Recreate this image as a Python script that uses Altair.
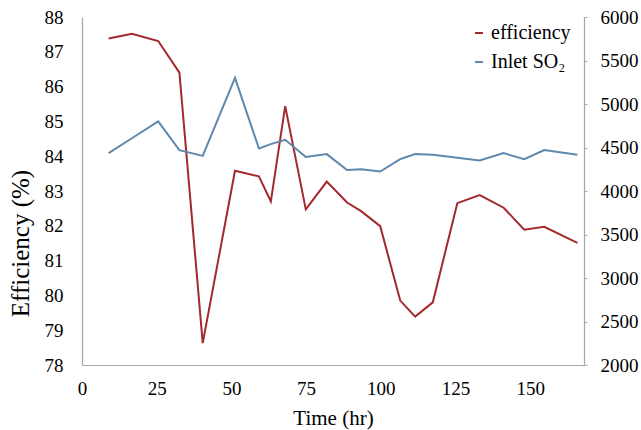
import altair as alt
import pandas as pd

# Data
time_hr = [8.9, 16.7, 25.5, 32.6, 40.4, 51.2, 59.2, 63.2, 68.0, 74.9, 81.9, 88.7,
           93.4, 99.8, 106.5, 111.5, 117.4, 125.6, 133.1, 141.1, 148.0, 154.7, 165.8]
efficiency = [87.38, 87.52, 87.31, 86.40, 78.63, 83.58, 83.42, 82.70, 85.44, 82.47, 83.27, 82.67,
              82.42, 81.99, 79.85, 79.39, 79.80, 82.65, 82.88, 82.52, 81.89, 81.97, 81.51]
inlet_so2 = [4435, 4606, 4801, 4470, 4404, 5301, 4489, 4539, 4589, 4392, 4424, 4242,
             4250, 4224, 4366, 4424, 4416, 4381, 4351, 4435, 4366, 4470, 4416]

series_names = ["efficiency", "Inlet SO₂"]
series_colors = ["#A2292E", "#5E88AC"]
x_ticks = [0, 25, 50, 75, 100, 125, 150]
left_ticks = list(range(78, 89))
right_ticks = [2000, 2500, 3000, 3500, 4000, 4500, 5000, 5500, 6000]

n = len(time_hr)
df = pd.DataFrame({
    "time": time_hr + time_hr,
    "value": efficiency + inlet_so2,
    "series": [series_names[0]] * n + [series_names[1]] * n,
})

FONT = "Liberation Serif"
AXIS_GRAY = "#A6A6A6"

color = alt.Color(
    "series:N",
    scale=alt.Scale(domain=series_names, range=series_colors),
    legend=alt.Legend(
        title=None, orient="none", legendX=387, legendY=6,
        symbolType="stroke", symbolSize=64, symbolStrokeWidth=2,
        labelFont=FONT, labelFontSize=20, labelColor="black",
        labelOffset=2, rowPadding=9, padding=0,
    ),
)

x_axis = alt.Axis(
    values=x_ticks, title="Time (hr)", ticks=False, tickSize=0,
    labelPadding=14, titleY=53, titleBaseline="middle",
    labelFont=FONT, labelFontSize=19, labelColor="black",
    titleFont=FONT, titleFontSize=21, titleColor="black", titleFontWeight="normal",
    domainColor=AXIS_GRAY, domainWidth=1.2, grid=False,
    labelFlush=False, labelOverlap=False, format="d",
)
left_axis = alt.Axis(
    values=left_ticks, title="Efficiency (%)", orient="left",
    ticks=False, tickSize=0, labelPadding=19,
    titleX=-62, titleY=226, titleBaseline="middle", titleAngle=270,
    labelFont=FONT, labelFontSize=19, labelColor="black",
    titleFont=FONT, titleFontSize=25, titleColor="black", titleFontWeight="normal",
    domainColor=AXIS_GRAY, domainWidth=1.2, grid=False,
    labelFlush=False, labelOverlap=False, format="d",
)
right_axis = alt.Axis(
    values=right_ticks, title=None, orient="right",
    ticks=True, tickSize=3, tickColor=AXIS_GRAY, labelPadding=13,
    labelFont=FONT, labelFontSize=19, labelColor="black",
    domainColor=AXIS_GRAY, domainWidth=1.2, grid=False,
    labelFlush=False, labelOverlap=False, format="d",
)

x = alt.X("time:Q", scale=alt.Scale(domain=[0, 168], nice=False, zero=False), axis=x_axis)

eff = alt.Chart(df).transform_filter(
    alt.datum.series == "efficiency"
).mark_line(strokeWidth=2).encode(
    x=x,
    y=alt.Y("value:Q", scale=alt.Scale(domain=[78, 88], nice=False, zero=False), axis=left_axis),
    color=color,
)

so2 = alt.Chart(df).transform_filter(
    alt.datum.series != "efficiency"
).mark_line(strokeWidth=2).encode(
    x=x,
    y=alt.Y("value:Q", scale=alt.Scale(domain=[2000, 6000], nice=False, zero=False), axis=right_axis),
    color=color,
)

chart = alt.layer(eff, so2).resolve_scale(y="independent").properties(
    width=502, height=348,
    autosize=alt.AutoSizeParams(type="none"),
    padding={"left": 82, "top": 17, "right": 57, "bottom": 65},
).configure(
    font=FONT,
    axis=alt.AxisConfig(labelFont=FONT, titleFont=FONT, grid=False),
    legend=alt.LegendConfig(labelFont=FONT),
    view=alt.ViewConfig(stroke=None),
)

chart.save("out.html", embed_options={"renderer": "svg", "actions": False})
